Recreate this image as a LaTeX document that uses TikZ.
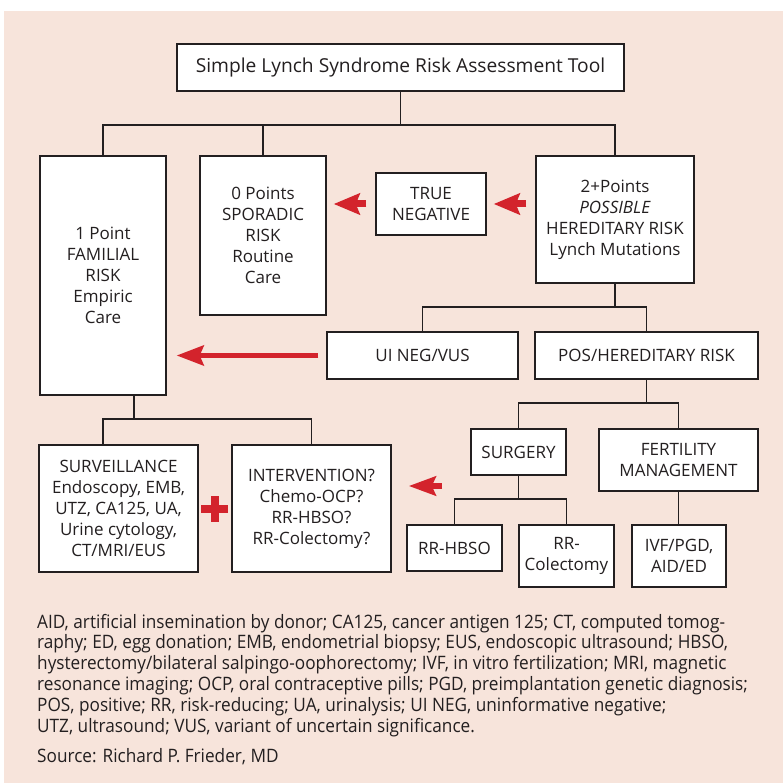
\documentclass[tikz,border=0pt]{standalone}
\usepackage{fontspec}
\setmainfont{Open Sans}
\newfontfamily\legfont[FakeStretch=0.93]{Open Sans}
\usetikzlibrary{arrows.meta}
\definecolor{peach}{RGB}{247,228,219}
\definecolor{ared}{RGB}{211,35,44}
\definecolor{ink}{RGB}{35,31,32}
\begin{document}
\begin{tikzpicture}[x=1pt,y=-1pt,
  box/.style={draw=ink, line width=1.4pt, fill=white, inner sep=0pt, align=center, text=ink, font=\fontsize{17}{21}\selectfont},
  conn/.style={draw=ink, line width=1.3pt},
  redarrow/.style={draw=ared, -{Stealth[length=26pt,width=21pt,inset=4pt]}, line width=7pt},
  leg/.style={anchor=base west, inner sep=0pt, text=ink, font=\legfont\fontsize{18.5}{21}\selectfont}
]
\useasboundingbox (0,0) rectangle (783,783);
\fill[peach] (4,11) rectangle (783,783);

\node[box, minimum width=447pt, minimum height=47pt, font=\fontsize{19.2}{22}\selectfont] (title) at (400.5,67.5) {Simple Lynch Syndrome Risk Assessment Tool};
\node[box, minimum width=126pt, minimum height=239pt] (fam) at (103,275.5) {1 Point\\FAMILIAL\\RISK\\Empiric\\Care};
\node[box, minimum width=126pt, minimum height=159pt] (spor) at (263,235.5) {0 Points\\SPORADIC\\RISK\\Routine\\Care};
\node[box, minimum width=110pt, minimum height=62pt] (tneg) at (431,204) {TRUE\\NEGATIVE};
\node[box, minimum width=158pt, minimum height=127pt] (poss) at (615,219.5) {2+Points\\\textit{POSSIBLE}\\HEREDITARY RISK\\Lynch Mutations};
\node[box, minimum width=191pt, minimum height=47pt] (uineg) at (422.5,355.5) {UI NEG/VUS};
\node[box, minimum width=223pt, minimum height=47pt] (pos) at (646.5,355.5) {POS/HEREDITARY RISK};
\node[box, minimum width=95pt, minimum height=46pt] (surg) at (518.5,452) {SURGERY};
\node[box, minimum width=159pt, minimum height=62pt] (fert) at (678.5,460) {FERTILITY\\MANAGEMENT};
\node[box, minimum width=95pt, minimum height=46pt] (hbso) at (454.5,548) {RR-HBSO};
\node[box, minimum width=95pt, minimum height=62pt] (colec) at (566.5,556) {RR-\\Colectomy};
\node[box, minimum width=94pt, minimum height=62pt] (ivf) at (679,556) {IVF/PGD,\\AID/ED};
\node[box, minimum width=159pt, minimum height=127pt] (surv) at (118.5,508.5) {SURVEILLANCE\\Endoscopy, EMB,\\UTZ, CA125, UA,\\Urine cytology,\\CT/MRI/EUS};
\node[box, minimum width=159pt, minimum height=127pt] (interv) at (311.5,508.5) {INTERVENTION?\\Chemo-OCP?\\RR-HBSO?\\RR-Colectomy?};

% connectors
\coordinate (j1) at (400.5,125);
\draw[conn] (title.south) -- (j1);
\draw[conn] (fam.north) |- (j1) -| (poss.north);
\draw[conn] (spor.north) -- (spor.north |- j1);
\coordinate (j2) at (615,307);
\draw[conn] (poss.south) -- (j2);
\draw[conn] (uineg.north) |- (j2) -| (pos.north);
\coordinate (j3) at (646.5,403);
\draw[conn] (pos.south) -- (j3);
\draw[conn] (surg.north) |- (j3) -| (fert.north);
\coordinate (j4) at (518.5,499);
\draw[conn] (surg.south) -- (j4);
\draw[conn] (hbso.north) |- (j4) -| (colec.north);
\draw[conn] (fert.south) -- (fert.south |- ivf.north);
\coordinate (j5) at (134,419);
\draw[conn] (fam.south -| j5) -- (j5);
\draw[conn] ([xshift=-15.5pt]surv.north) |- (j5) -| (interv.north);

% red arrows
\draw[redarrow] ([xshift=-9pt]poss.west |- tneg.east) -- ([xshift=7pt]tneg.east);
\draw[redarrow] ([xshift=-9pt]tneg.west) -- ([xshift=7pt]spor.east |- tneg.west);
\draw[redarrow, line width=5pt, -{Stealth[length=27pt,width=20pt,inset=4pt]}] ([xshift=-8pt]uineg.west) -- ([xshift=10pt]fam.east |- uineg.west);
\coordinate (sa) at (442,486);
\draw[redarrow, line width=6pt, -{Stealth[length=27pt,width=19pt,inset=4pt]}] (sa) -- ([xshift=17pt]interv.east |- sa);
% plus sign
\fill[ared] (201,504.5) rectangle (228,512.5);
\fill[ared] (210.5,495.5) rectangle (218.5,521.5);

% legend
\node[leg] (l1) at (37,628) {AID, artificial insemination by donor; CA125, cancer antigen 125; CT, computed tomog-};
\node[leg] (l2) at (37,648.8) {raphy; ED, egg donation; EMB, endometrial biopsy; EUS, endoscopic ultrasound; HBSO,};
\node[leg] (l3) at (37,669.6) {hysterectomy/bilateral salpingo-oophorectomy; IVF, in vitro fertilization; MRI, magnetic};
\node[leg] (l4) at (37,690.4) {resonance imaging; OCP, oral contraceptive pills; PGD, preimplantation genetic diagnosis;};
\node[leg] (l5) at (37,711.2) {POS, positive; RR, risk-reducing; UA, urinalysis; UI NEG, uninformative negative;};
\node[leg] (l6) at (37,732) {UTZ, ultrasound; VUS, variant of uncertain significance.};
\node[leg] (src) at (37,762) {Source: Richard P. Frieder, MD};
\end{tikzpicture}
\end{document}
